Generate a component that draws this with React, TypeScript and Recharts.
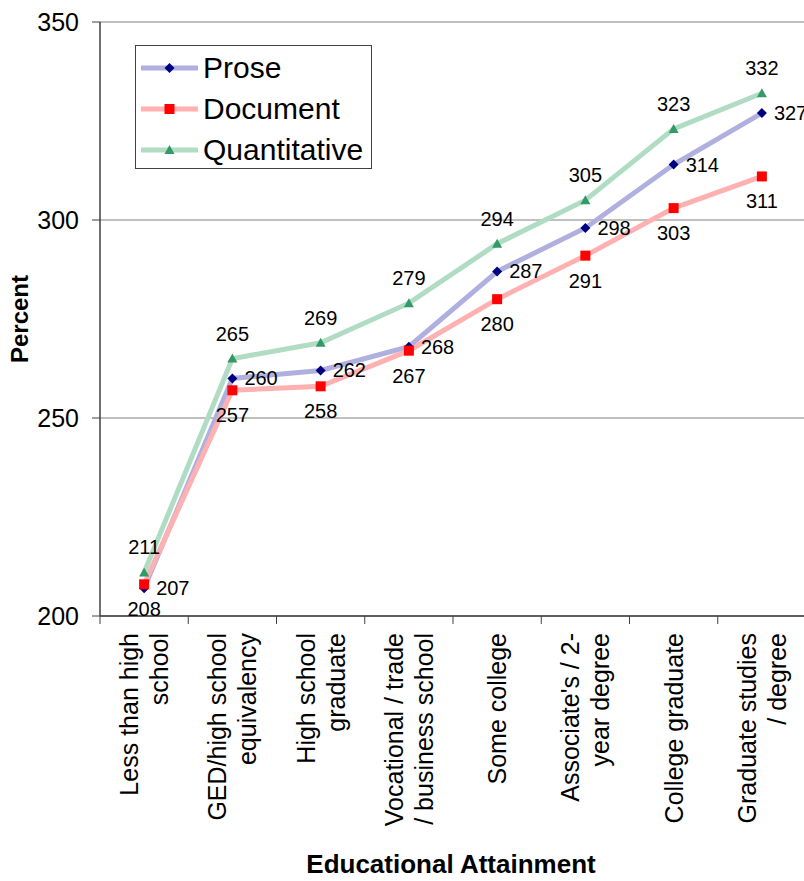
import React from 'react';
import { LineChart, Line, XAxis, YAxis, CartesianGrid, Legend, LabelList } from 'recharts';

const categories = [
  'Less than high school',
  'GED/high school equivalency',
  'High school graduate',
  'Vocational / trade / business school',
  'Some college',
  "Associate's / 2-year degree",
  'College graduate',
  'Graduate studies / degree',
];
const categoryLines = [
  ['Less than high', 'school'],
  ['GED/high school', 'equivalency'],
  ['High school', 'graduate'],
  ['Vocational / trade', '/ business school'],
  ['Some college'],
  ["Associate's / 2-", 'year degree'],
  ['College graduate'],
  ['Graduate studies', '/ degree'],
];
const prose = [207, 260, 262, 268, 287, 298, 314, 327];
const documentScores = [208, 257, 258, 267, 280, 291, 303, 311];
const quantitative = [211, 265, 269, 279, 294, 305, 323, 332];
const yTicks = [200, 250, 300, 350];
const seriesNames = ['Prose', 'Document', 'Quantitative'];

const data = categories.map((c, i) => ({
  name: c,
  prose: prose[i],
  document: documentScores[i],
  quantitative: quantitative[i],
}));

const FONT = "'Liberation Sans', Arial, sans-serif";
const CHART_W = 810;
const CHART_H = 881;
const MARGIN = { top: 22, right: 4, left: 0, bottom: 0 };
const Y_W = 100;
const X_H = 265;
const PLOT_W = CHART_W - MARGIN.left - MARGIN.right - Y_W;
const BAND = PLOT_W / categories.length;

const COLORS = {
  prose: { line: '#b0b0e0', marker: '#000080' },
  document: { line: '#ffb0b0', marker: '#ff0000' },
  quantitative: { line: '#b0dcc4', marker: '#339966' },
};

const Diamond = ({ cx, cy, fill }: any) => (
  <polygon points={`${cx},${cy - 5} ${cx + 5},${cy} ${cx},${cy + 5} ${cx - 5},${cy}`} fill={fill} />
);
const Square = ({ cx, cy, fill }: any) => <rect x={cx - 5} y={cy - 5} width={10} height={10} fill={fill} />;
const Triangle = ({ cx, cy, fill }: any) => (
  <polygon points={`${cx},${cy - 5} ${cx + 5},${cy + 4} ${cx - 5},${cy + 4}`} fill={fill} />
);

const markerFor = (k: string, cx: number, cy: number) => {
  if (k === 'prose') return <Diamond cx={cx} cy={cy} fill={COLORS.prose.marker} />;
  if (k === 'document') return <Square cx={cx} cy={cy} fill={COLORS.document.marker} />;
  return <Triangle cx={cx} cy={cy} fill={COLORS.quantitative.marker} />;
};

const makeDot = (k: string) => (p: any) => (
  <g key={`${k}-dot-${p.index}`}>{markerFor(k, p.cx, p.cy)}</g>
);

const XTick = (props: any) => {
  const { x, y, payload } = props;
  const idx = categories.indexOf(payload.value);
  const lines = categoryLines[idx] || [String(payload.value)];
  const bx = x - BAND / 2;
  return (
    <g>
      <line x1={bx} x2={bx} y1={y} y2={y + 8} stroke="#404040" strokeWidth={1} />
      <text
        transform={`translate(${x},${y + 17}) rotate(-90)`}
        textAnchor="end"
        fontSize={25}
        fontFamily={FONT}
        fill="#000"
      >
        {lines.length === 2 ? (
          <>
            <tspan x={0} y={-6}>{lines[0]}</tspan>
            <tspan x={0} y={24}>{lines[1]}</tspan>
          </>
        ) : (
          <tspan x={0} y={9}>{lines[0]}</tspan>
        )}
      </text>
    </g>
  );
};

const labelRight = (p: any) => (
  <text key={`pl-${p.index}`} x={p.x + 12} y={p.y + 7} fontSize={20} fontFamily={FONT} fill="#000" textAnchor="start">
    {p.value}
  </text>
);
const labelBelow = (p: any) => (
  <text key={`dl-${p.index}`} x={p.x} y={p.y + 32} fontSize={20} fontFamily={FONT} fill="#000" textAnchor="middle">
    {p.value}
  </text>
);
const labelAbove = (p: any) => (
  <text key={`ql-${p.index}`} x={p.x} y={p.y - 18} fontSize={20} fontFamily={FONT} fill="#000" textAnchor="middle">
    {p.value}
  </text>
);

const legendKeys = ['prose', 'document', 'quantitative'];

const LegendBox = () => (
  <div
    style={{
      width: 237,
      height: 124,
      boxSizing: 'border-box',
      border: '1.5px solid #404040',
      background: '#fff',
      paddingTop: 1,
      fontFamily: FONT,
    }}
  >
    {legendKeys.map((k, i) => (
      <div key={k} style={{ display: 'flex', alignItems: 'center', height: 41 }}>
        <svg width={57} height={16} style={{ marginLeft: 5, display: 'block' }}>
          <line x1={0} x2={57} y1={8} y2={8} stroke={(COLORS as any)[k].line} strokeWidth={5} />
          {markerFor(k, 28.5, 8)}
        </svg>
        <span style={{ marginLeft: 5, fontSize: 30, lineHeight: '30px', color: '#000' }}>{seriesNames[i]}</span>
      </div>
    ))}
  </div>
);

const YTitle = (props: any) => {
  const vb = props.viewBox || { x: 0, y: 22, width: 100, height: 594 };
  const cx = 28;
  const cy = vb.y + vb.height / 2;
  return (
    <text
      transform={`translate(${cx},${cy}) rotate(-90)`}
      textAnchor="middle"
      fontSize={24}
      fontWeight="bold"
      fontFamily={FONT}
      fill="#000"
    >
      Percent
    </text>
  );
};

const XTitle = (props: any) => {
  const vb = props.viewBox || { x: 100, y: 616, width: 706, height: 265 };
  return (
    <text
      x={vb.x + vb.width / 2 - 2}
      y={vb.y + 257}
      textAnchor="middle"
      fontSize={26}
      fontWeight="bold"
      fontFamily={FONT}
      fill="#000"
    >
      Educational Attainment
    </text>
  );
};

export default function App() {
  return (
    <div style={{ position: 'absolute', left: 0, top: 0, width: 804, height: 881, overflow: 'hidden', background: '#fff' }}>
      <LineChart width={CHART_W} height={CHART_H} data={data} margin={MARGIN}>
        <CartesianGrid vertical={false} stroke="#808080" strokeWidth={1} />
        <XAxis
          dataKey="name"
          scale="band"
          height={X_H}
          tick={<XTick />}
          tickLine={false}
          tickSize={0}
          tickMargin={0}
          interval={0}
          axisLine={{ stroke: '#404040', strokeWidth: 1.5 }}
          label={{ content: <XTitle /> } as any}
        />
        <YAxis
          width={Y_W}
          domain={[200, 350]}
          ticks={yTicks}
          interval={0}
          tickSize={8}
          tickMargin={13}
          tickLine={{ stroke: '#404040' }}
          axisLine={{ stroke: '#404040', strokeWidth: 1.5 }}
          tick={{ fontSize: 25, fill: '#000', fontFamily: FONT }}
          label={{ content: <YTitle /> } as any}
        />
        <Legend
          layout="vertical"
          align="center"
          verticalAlign="middle"
          wrapperStyle={{ position: 'absolute', left: 135, top: 45, width: 237, height: 124 }}
          content={() => <LegendBox />}
        />
        <Line
          dataKey="prose"
          name={seriesNames[0]}
          stroke={COLORS.prose.line}
          strokeWidth={5}
          dot={makeDot('prose')}
          activeDot={false}
          isAnimationActive={false}
        >
          <LabelList dataKey="prose" content={labelRight} />
        </Line>
        <Line
          dataKey="document"
          name={seriesNames[1]}
          stroke={COLORS.document.line}
          strokeWidth={5}
          dot={makeDot('document')}
          activeDot={false}
          isAnimationActive={false}
        >
          <LabelList dataKey="document" content={labelBelow} />
        </Line>
        <Line
          dataKey="quantitative"
          name={seriesNames[2]}
          stroke={COLORS.quantitative.line}
          strokeWidth={5}
          dot={makeDot('quantitative')}
          activeDot={false}
          isAnimationActive={false}
        >
          <LabelList dataKey="quantitative" content={labelAbove} />
        </Line>
      </LineChart>
    </div>
  );
}
